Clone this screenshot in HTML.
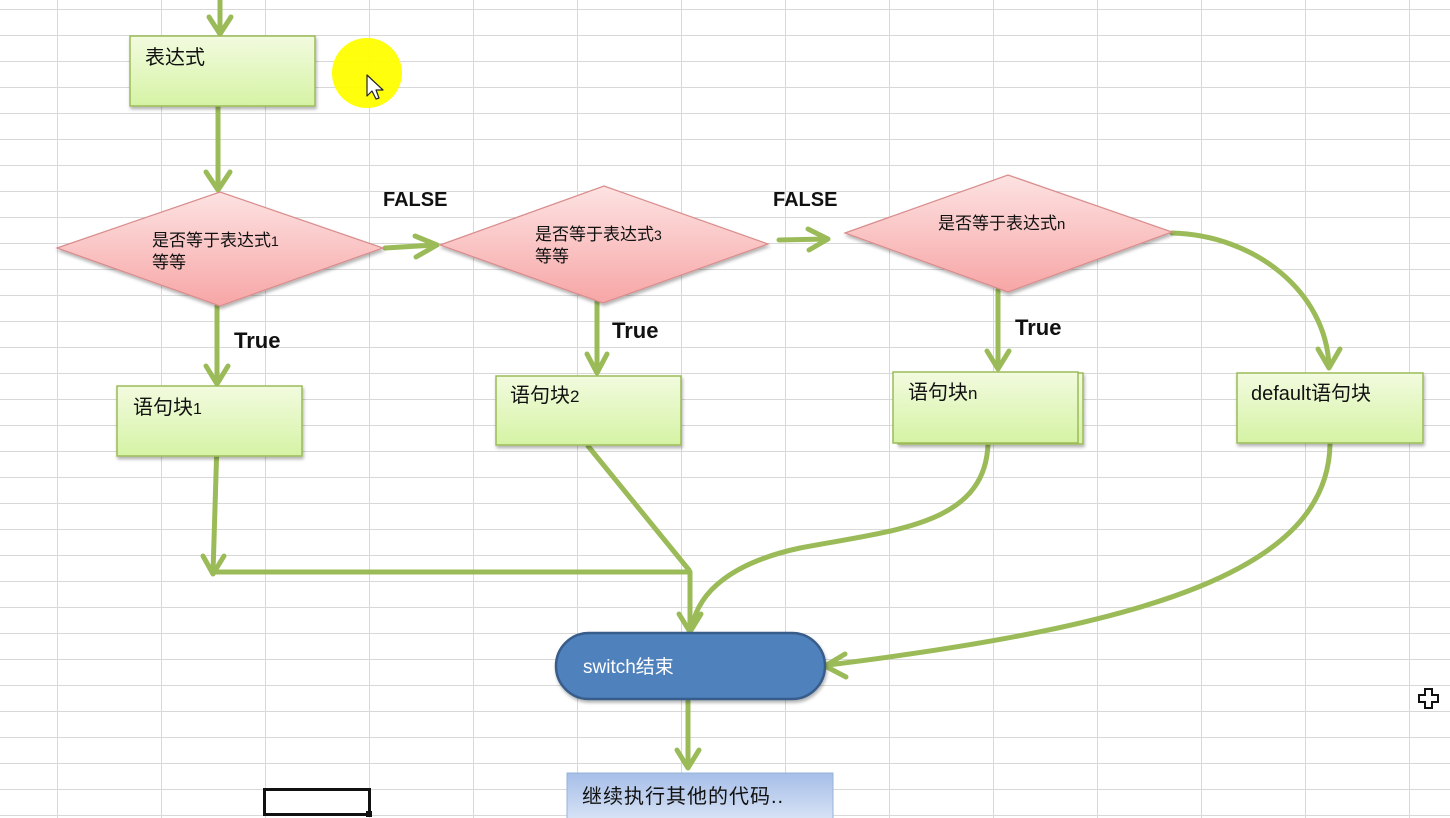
<!DOCTYPE html>
<html>
<head>
<meta charset="utf-8">
<style>
html,body{margin:0;padding:0;background:#fff;}
svg{display:block;}
.cn{font-family:"Liberation Sans","Noto Sans CJK SC",sans-serif;}
.lbl{font-family:"Liberation Sans",sans-serif;font-weight:bold;fill:#111;}
</style>
</head>
<body>
<svg width="1450" height="818" viewBox="0 0 1450 818" xmlns="http://www.w3.org/2000/svg">
<defs>
  <linearGradient id="gGreen" x1="0" y1="0" x2="0" y2="1">
    <stop offset="0" stop-color="#f2fbdf"/>
    <stop offset="1" stop-color="#d5f3a4"/>
  </linearGradient>
  <linearGradient id="gPink" x1="0" y1="0" x2="0" y2="1">
    <stop offset="0" stop-color="#fde2e2"/>
    <stop offset="1" stop-color="#f7a6a6"/>
  </linearGradient>
  <linearGradient id="gBlue" x1="0" y1="0" x2="0" y2="1">
    <stop offset="0" stop-color="#a6bee8"/>
    <stop offset="1" stop-color="#dbe5f6"/>
  </linearGradient>
  <filter id="sh" x="-10%" y="-10%" width="130%" height="140%">
    <feDropShadow dx="1" dy="2.5" stdDeviation="1.5" flood-color="#000" flood-opacity="0.3"/>
  </filter>
</defs>

<g stroke="#d8d8d8" stroke-width="1">
  <line x1="57.5" y1="0" x2="57.5" y2="818"/>
  <line x1="161.5" y1="0" x2="161.5" y2="818"/>
  <line x1="265.5" y1="0" x2="265.5" y2="818"/>
  <line x1="369.5" y1="0" x2="369.5" y2="818"/>
  <line x1="473.5" y1="0" x2="473.5" y2="818"/>
  <line x1="577.5" y1="0" x2="577.5" y2="818"/>
  <line x1="681.5" y1="0" x2="681.5" y2="818"/>
  <line x1="785.5" y1="0" x2="785.5" y2="818"/>
  <line x1="889.5" y1="0" x2="889.5" y2="818"/>
  <line x1="993.5" y1="0" x2="993.5" y2="818"/>
  <line x1="1097.5" y1="0" x2="1097.5" y2="818"/>
  <line x1="1201.5" y1="0" x2="1201.5" y2="818"/>
  <line x1="1305.5" y1="0" x2="1305.5" y2="818"/>
  <line x1="1409.5" y1="0" x2="1409.5" y2="818"/>
  <line x1="0" y1="9.5" x2="1450" y2="9.5"/>
  <line x1="0" y1="35.5" x2="1450" y2="35.5"/>
  <line x1="0" y1="61.5" x2="1450" y2="61.5"/>
  <line x1="0" y1="87.5" x2="1450" y2="87.5"/>
  <line x1="0" y1="113.5" x2="1450" y2="113.5"/>
  <line x1="0" y1="139.5" x2="1450" y2="139.5"/>
  <line x1="0" y1="165.5" x2="1450" y2="165.5"/>
  <line x1="0" y1="191.5" x2="1450" y2="191.5"/>
  <line x1="0" y1="217.5" x2="1450" y2="217.5"/>
  <line x1="0" y1="243.5" x2="1450" y2="243.5"/>
  <line x1="0" y1="269.5" x2="1450" y2="269.5"/>
  <line x1="0" y1="295.5" x2="1450" y2="295.5"/>
  <line x1="0" y1="321.5" x2="1450" y2="321.5"/>
  <line x1="0" y1="347.5" x2="1450" y2="347.5"/>
  <line x1="0" y1="373.5" x2="1450" y2="373.5"/>
  <line x1="0" y1="399.5" x2="1450" y2="399.5"/>
  <line x1="0" y1="425.5" x2="1450" y2="425.5"/>
  <line x1="0" y1="451.5" x2="1450" y2="451.5"/>
  <line x1="0" y1="477.5" x2="1450" y2="477.5"/>
  <line x1="0" y1="503.5" x2="1450" y2="503.5"/>
  <line x1="0" y1="529.5" x2="1450" y2="529.5"/>
  <line x1="0" y1="555.5" x2="1450" y2="555.5"/>
  <line x1="0" y1="581.5" x2="1450" y2="581.5"/>
  <line x1="0" y1="607.5" x2="1450" y2="607.5"/>
  <line x1="0" y1="633.5" x2="1450" y2="633.5"/>
  <line x1="0" y1="659.5" x2="1450" y2="659.5"/>
  <line x1="0" y1="685.5" x2="1450" y2="685.5"/>
  <line x1="0" y1="711.5" x2="1450" y2="711.5"/>
  <line x1="0" y1="737.5" x2="1450" y2="737.5"/>
  <line x1="0" y1="763.5" x2="1450" y2="763.5"/>
  <line x1="0" y1="789.5" x2="1450" y2="789.5"/>
  <line x1="0" y1="815.5" x2="1450" y2="815.5"/>
</g>

<g stroke="#9bbb59" stroke-width="5" fill="none" stroke-linecap="round" stroke-linejoin="round">
  <line x1="220" y1="0" x2="220" y2="33"/>
  <polyline points="209,17 220,34 231,17"/>
  <line x1="218" y1="106" x2="218" y2="188"/>
  <polyline points="206,172 218,190 230,172"/>
  <line x1="385" y1="248" x2="435" y2="245"/>
  <polyline points="415,236 437,245 416,257"/>
  <line x1="217" y1="306" x2="217" y2="383"/>
  <polyline points="206,366 217,384 228,366"/>
  <line x1="597" y1="292" x2="597" y2="372"/>
  <polyline points="587,354 597,373 607,354"/>
  <line x1="779" y1="240" x2="826" y2="239"/>
  <polyline points="808,229 828,239 809,250"/>
  <line x1="998" y1="290" x2="998" y2="368"/>
  <polyline points="987,351 998,369 1009,351"/>
  <path d="M1172,233 C1255,235 1326,292 1329,366"/>
  <polyline points="1318,349 1329,368 1340,349"/>
  <line x1="217" y1="442" x2="213" y2="573"/>
  <polyline points="203,556 213,574 224,556"/>
  <line x1="213" y1="572" x2="690" y2="572"/>
  <line x1="588" y1="446" x2="689" y2="570"/>
  <line x1="690" y1="572" x2="690" y2="630"/>
  <polyline points="679,614 690,632 701,614"/>
  <path d="M988,444 C985,525 895,530 800,548 C735,562 698,590 692,628"/>
  <path d="M1330,444 C1328,570 1150,625 828,665"/>
  <polyline points="845,654 825,666 846,677"/>
  <line x1="688" y1="699" x2="688" y2="766"/>
  <polyline points="677,750 688,768 699,750"/>
</g>

<rect x="130" y="36" width="185" height="70" fill="url(#gGreen)" stroke="#9bbb59" stroke-width="1.5" filter="url(#sh)"/>
<text x="145" y="64" class="cn" font-size="20" fill="#111">表达式</text>

<circle cx="367" cy="73" r="35" fill="#ffff00" opacity="0.95"/>
<path d="M367,75 L367,96 L372,91 L376,99 L379,98 L376,90 L383,90 Z" fill="#fff" stroke="#222" stroke-width="1.2" stroke-linejoin="round"/>

<polygon points="57,248 220,192 383,248 220,306" fill="url(#gPink)" stroke="#d98c8c" stroke-width="1.2" filter="url(#sh)"/>
<text class="cn" font-size="17" fill="#111"><tspan x="152" y="246">是否等于表达式<tspan font-size="14">1</tspan></tspan><tspan x="152" y="268">等等</tspan></text>

<polygon points="440,245 604,186 768,244 603,303" fill="url(#gPink)" stroke="#d98c8c" stroke-width="1.2" filter="url(#sh)"/>
<text class="cn" font-size="17" fill="#111"><tspan x="535" y="240">是否等于表达式<tspan font-size="14">3</tspan></tspan><tspan x="535" y="262">等等</tspan></text>

<polygon points="845,233 1008,175 1172,232 1008,292" fill="url(#gPink)" stroke="#d98c8c" stroke-width="1.2" filter="url(#sh)"/>
<text x="938" y="229" class="cn" font-size="17" fill="#111">是否等于表达式<tspan font-size="15">n</tspan></text>

<text x="383" y="206" class="lbl" font-size="20">FALSE</text>
<text x="773" y="206" class="lbl" font-size="20">FALSE</text>
<text x="234" y="348" class="lbl" font-size="22">True</text>
<text x="612" y="338" class="lbl" font-size="22">True</text>
<text x="1015" y="335" class="lbl" font-size="22">True</text>

<rect x="117" y="386" width="185" height="70" fill="url(#gGreen)" stroke="#9bbb59" stroke-width="1.5" filter="url(#sh)"/>
<text x="133" y="414" class="cn" font-size="20" fill="#111">语句块<tspan font-size="16">1</tspan></text>

<rect x="496" y="376" width="185" height="69" fill="url(#gGreen)" stroke="#9bbb59" stroke-width="1.5" filter="url(#sh)"/>
<text x="510" y="402" class="cn" font-size="20" fill="#111">语句块<tspan font-size="17">2</tspan></text>

<rect x="898" y="373" width="185" height="71" fill="url(#gGreen)" stroke="#9bbb59" stroke-width="1.5" filter="url(#sh)"/>
<rect x="893" y="372" width="185" height="71" fill="url(#gGreen)" stroke="#9bbb59" stroke-width="1.5"/>
<text x="908" y="399" class="cn" font-size="20" fill="#111">语句块<tspan font-size="17">n</tspan></text>

<rect x="1237" y="373" width="186" height="70" fill="url(#gGreen)" stroke="#9bbb59" stroke-width="1.5" filter="url(#sh)"/>
<text x="1251" y="400" class="cn" font-size="20" fill="#111"><tspan font-size="20">default</tspan>语句块</text>

<rect x="556" y="633" width="269" height="66" rx="33" ry="33" fill="#4f81bd" stroke="#385d8a" stroke-width="2.5" filter="url(#sh)"/>
<text x="583" y="673" class="cn" font-size="19" fill="#fff">switch结束</text>

<rect x="567" y="773" width="266" height="50" fill="url(#gBlue)" stroke="#95b3d7" stroke-width="1"/>
<text x="582" y="803" class="cn" font-size="20" letter-spacing="1" fill="#111">继续执行其他的代码..</text>

<rect x="264.5" y="789.5" width="105" height="25" fill="none" stroke="#111" stroke-width="3"/>
<rect x="366" y="811" width="6" height="6" fill="#111"/>

<path d="M1425,689 L1432,689 L1432,695 L1438,695 L1438,702 L1432,702 L1432,708 L1425,708 L1425,702 L1419,702 L1419,695 L1425,695 Z" fill="#fff" stroke="#111" stroke-width="2"/>
</svg>
</body>
</html>
